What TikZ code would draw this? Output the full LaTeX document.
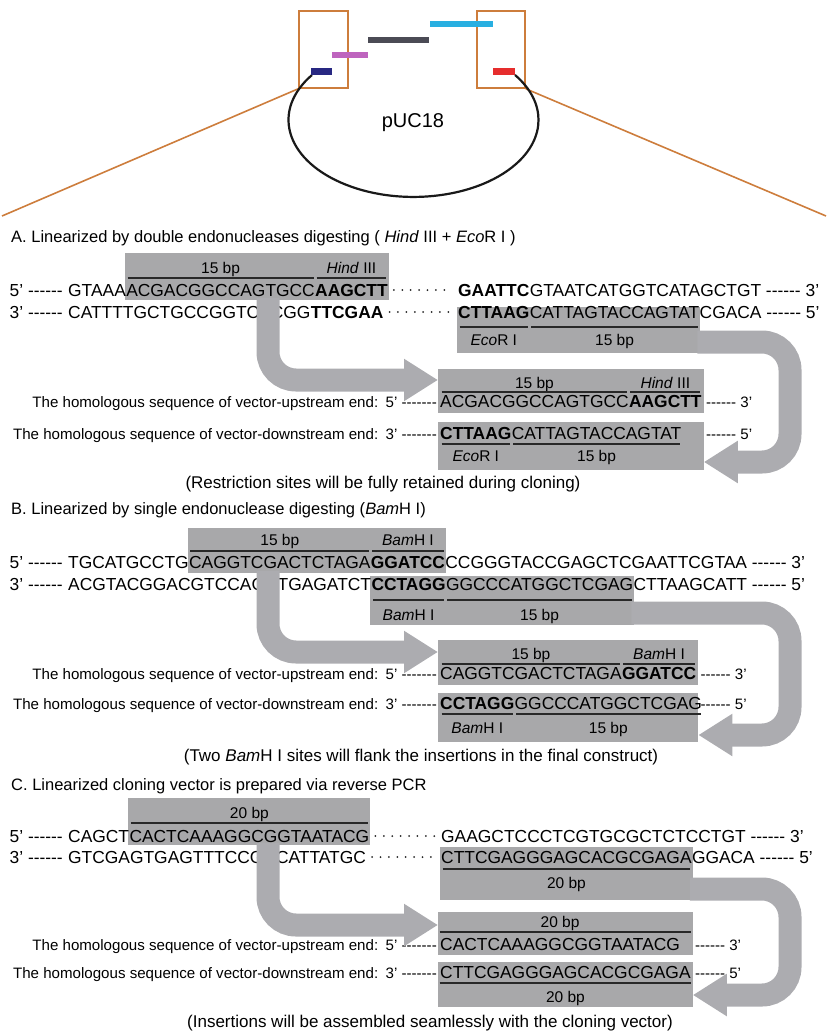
\documentclass[tikz,border=0pt]{standalone}
\usepackage{fontspec}
\setmainfont{Liberation Sans}[Ligatures=TeXOff]
\usetikzlibrary{calc,arrows.meta,backgrounds}

\definecolor{boxgray}{RGB}{168,168,170}
\definecolor{arrowgray}{RGB}{172,172,176}
\definecolor{bardark}{RGB}{40,40,40}
\definecolor{zoomorange}{RGB}{205,125,60}
\definecolor{barcyan}{RGB}{40,175,225}
\definecolor{bargrey}{RGB}{75,75,85}
\definecolor{barpurple}{RGB}{190,100,190}
\definecolor{barnavy}{RGB}{40,40,130}
\definecolor{barred}{RGB}{230,45,45}

\newcommand\seqfont{\fontsize{17.4}{20}\selectfont}
\newcommand\labfont{\fontsize{15.5}{18}\selectfont}
\newcommand\rowfont{\fontsize{15.1}{18}\selectfont}
\newcommand\titfont{\fontsize{16.5}{20}\selectfont}
\newcommand\capfont{\fontsize{17}{20}\selectfont}
\newcommand\plasfont{\fontsize{20}{24}\selectfont}

\tikzset{
  seq/.style={anchor=base west, inner sep=0pt, font=\seqfont},
  bplabel/.style={anchor=base, inner sep=0pt, font=\labfont},
  rowtxt/.style={anchor=base east, inner sep=0pt, font=\rowfont},
  ttl/.style={anchor=base west, inner sep=0pt, font=\titfont},
  capline/.style={anchor=base, inner sep=0pt, font=\capfont},
  seqbar/.style={draw=bardark, line width=2pt, shorten <=1.5pt, shorten >=1.5pt},
  dotrun/.style={draw=black!85, line width=2pt, dash pattern=on 0pt off 8.4pt, line cap=round},
  fatarrow/.style={draw=arrowgray, line width=23pt, rounded corners=28pt,
    -{Triangle[width=40pt,length=34pt]}},
  zoomframe/.style={draw=zoomorange, line width=1.6pt, inner sep=0pt},
  zoomline/.style={draw=zoomorange, line width=1.6pt},
  segbar/.style={line width=6pt},
  plasmid/.style={draw=black!90, line width=2.2pt}
}

\begin{document}
\begin{tikzpicture}[x=1pt,y=-1pt]
\useasboundingbox (0,0) rectangle (828,1032);

%Plasmid map
\node[zoomframe, minimum width=49pt, minimum height=77pt] (frameL) at (323.5,49.5) {};
\node[zoomframe, minimum width=48pt, minimum height=77pt] (frameR) at (501,49.5) {};
\coordinate (edgeL) at (2,216);
\coordinate (edgeR) at (826,216);
\draw[zoomline] (frameL.south west) -- (edgeL);
\draw[zoomline] (frameR.south east) -- (edgeR);
\draw[segbar, barcyan] (430,24) -- (493,24);
\draw[segbar, bargrey] (368,40) -- (429,40);
\draw[segbar, barpurple] (332,55) -- (368,55);
\draw[plasmid] (312,75) arc[start angle=215.7, end angle=-35.7, x radius=125, y radius=77];
\draw[segbar, barnavy, line width=7pt] (311,72) -- (332,72);
\draw[segbar, barred, line width=7pt] (493,72) -- (515,72);
\node[font=\plasfont] (puc) at (413,123) {pUC18};

%Part A
\node[ttl] (titA) at (11,243) {A. Linearized by double endonucleases digesting ( \textit{Hind} III + \textit{Eco}R I )};
% top strand
\node[seq] (At1) at (68,296) {GTAAA};
\node[seq] (At2) at (At1.base east) {ACGACGGCCAGTGCC};
\node[seq] (At3) at (At2.base east) {\textbf{AAGCTT}};
\node[seq, anchor=base east] (At0) at ([xshift=-5pt]At1.base west) {5’\ ------};
\node[seq] (At4) at (458,296) {\textbf{GAATTC}};
\node[seq] (At5) at (At4.base east) {GTAATCATGGTCATAGCTGT\ ------\ 3’};
% bottom strand
\node[seq] (Ab1) at (68,318) {CATTTTGCTGCCGGTCACGG};
\node[seq] (Ab2) at (Ab1.base east) {\textbf{TTCGAA}};
\node[seq, anchor=base east] (Ab0) at ([xshift=-5pt]Ab1.base west) {3’\ ------};
\node[seq] (Ab3) at (458,318) {\textbf{CTTAAG}};
\node[seq] (Ab4) at (Ab3.base east) {CATTAGTACCAGTAT};
\node[seq] (Ab5) at (Ab4.base east) {CGACA\ ------\ 5’};
\draw[dotrun] ([xshift=6pt]At3.east) -- ([xshift=-6pt]At4.west);
\draw[dotrun] ([xshift=6pt]Ab2.east) -- ([xshift=-6pt]Ab3.west);
% labels
\node[bplabel] (Al1) at (At2.north |- 0,273) {15 bp};
\node[bplabel] (Al2) at (At3.north |- 0,273) {\textit{Hind} III};
\draw[seqbar] (At2.west |- 0,278) -- (At2.east |- 0,278);
\draw[seqbar] (At3.west |- 0,278) -- (At3.east |- 0,278);
\node[bplabel] (Al3) at (Ab3.north |- 0,345) {\textit{Eco}R I};
\node[bplabel] (Al4) at (Ab4.north |- 0,345) {15 bp};
\draw[seqbar] (Ab3.west |- 0,327) -- (Ab3.east |- 0,327);
\draw[seqbar] (Ab4.west |- 0,327) -- (Ab4.east |- 0,327);
% homologous ends
\node[seq] (Au1) at (440,407) {ACGACGGCCAGTGCC};
\node[seq] (Au2) at (Au1.base east) {\textbf{AAGCTT}};
\node[rowtxt] (Au0) at ([xshift=-3pt]Au1.base west) {5’\ -------};
\node[rowtxt] (AuT) at ([xshift=-7pt]Au0.base west) {The homologous sequence of vector-upstream end:};
\node[rowtxt, anchor=base west] (Au3) at ([xshift=4pt]Au2.base east) {------\ 3’};
\node[bplabel] (Al5) at (Au1.north |- 0,388) {15 bp};
\node[bplabel] (Al6) at (Au2.north |- 0,388) {\textit{Hind} III};
\draw[seqbar] (Au1.west |- 0,392) -- (Au1.east |- 0,392);
\draw[seqbar] (Au2.west |- 0,392) -- (Au2.east |- 0,392);
\node[seq] (Ad1) at (440,439) {\textbf{CTTAAG}};
\node[seq] (Ad2) at (Ad1.base east) {CATTAGTACCAGTAT};
\node[rowtxt] (Ad0) at ([xshift=-3pt]Ad1.base west) {3’\ -------};
\node[rowtxt] (AdT) at ([xshift=-7pt]Ad0.base west) {The homologous sequence of vector-downstream end:};
\node[rowtxt, anchor=base west] (Ad3) at (Au3.base west |- Ad2.base) {------\ 5’};
\node[bplabel] (Al7) at (Ad1.north |- 0,461) {\textit{Eco}R I};
\node[bplabel] (Al8) at (Ad2.north |- 0,461) {15 bp};
\draw[seqbar] (Ad1.west |- 0,444) -- (Ad1.east |- 0,444);
\draw[seqbar] (Ad2.west |- 0,444) -- (Ad2.east |- 0,444);
\node[capline] (capA) at (383,488) {(Restriction sites will be fully retained during cloning)};
\coordinate (Abx) at ($(Au2.east)+(2,0)$);
\coordinate (Alx) at ($(Au1.west)+(-2,0)$);
\begin{scope}[on background layer]
  \fill[boxgray] ($(At2.west |- 0,253)+(-1,0)$) rectangle ($(At3.east |- 0,300)+(1,0)$);
  \fill[boxgray] ($(Ab3.west |- 0,307)+(-1,0)$) rectangle ($(Ab4.east |- 0,353)+(1,0)$);
  \fill[boxgray] (Alx |- 0,369) rectangle (Abx |- 0,413);
  \fill[boxgray] (Alx |- 0,422) rectangle (Abx |- 0,470);
\end{scope}
\coordinate (Aa1) at (268,298);
\coordinate (Aa2) at (Alx |- 0,380);
\coordinate (Aa3) at ($(Ab4.east |- 0,342)+(-2,0)$);
\coordinate (Aturn) at (790,462);
\coordinate (Aa4) at (Abx |- 0,462);
\draw[fatarrow] (Aa1) |- (Aa2);
\draw[fatarrow] (Aa3) -| (Aturn) -- (Aa4);

%Part B
\node[ttl] (titB) at (11,514) {B. Linearized by single endonuclease digesting (\textit{Bam}H I)};
% top strand
\node[seq] (Bt1) at (68,568) {TGCATGCCTG};
\node[seq] (Bt2) at (Bt1.base east) {CAGGTCGACTCTAGA};
\node[seq] (Bt3) at (Bt2.base east) {\textbf{GGATCC}};
\node[seq] (Bt4) at (Bt3.base east) {CCGGGTACCGAGCTCGAATTCGTAA\ ------\ 3’};
\node[seq, anchor=base east] (Bt0) at ([xshift=-5pt]Bt1.base west) {5’\ ------};
% bottom strand
\node[seq] (Bb1) at (68,590) {ACGTACGGACGTCCAGCTGAGATCT};
\node[seq] (Bb2) at (Bb1.base east) {\textbf{CCTAGG}};
\node[seq] (Bb3) at (Bb2.base east) {GGCCCATGGCTCGAG};
\node[seq] (Bb4) at (Bb3.base east) {CTTAAGCATT\ ------\ 5’};
\node[seq, anchor=base east] (Bb0) at ([xshift=-5pt]Bb1.base west) {3’\ ------};
% labels
\node[bplabel] (Bl1) at (Bt2.north |- 0,545) {15 bp};
\node[bplabel] (Bl2) at (Bt3.north |- 0,545) {\textit{Bam}H I};
\draw[seqbar] (Bt2.west |- 0,551) -- (Bt2.east |- 0,551);
\draw[seqbar] (Bt3.west |- 0,551) -- (Bt3.east |- 0,551);
\node[bplabel] (Bl3) at (Bb2.north |- 0,620) {\textit{Bam}H I};
\node[bplabel] (Bl4) at (Bb3.north |- 0,620) {15 bp};
\draw[seqbar] (Bb2.west |- 0,600) -- (Bb2.east |- 0,600);
\draw[seqbar] (Bb3.west |- 0,600) -- (Bb3.east |- 0,600);
% homologous ends
\node[seq] (Bu1) at (440,679) {CAGGTCGACTCTAGA};
\node[seq] (Bu2) at (Bu1.base east) {\textbf{GGATCC}};
\node[rowtxt] (Bu0) at ([xshift=-3pt]Bu1.base west) {5’\ -------};
\node[rowtxt] (BuT) at ([xshift=-7pt]Bu0.base west) {The homologous sequence of vector-upstream end:};
\node[rowtxt, anchor=base west] (Bu3) at ([xshift=4pt]Bu2.base east) {------\ 3’};
\node[bplabel] (Bl5) at (Bu1.north |- 0,659) {15 bp};
\node[bplabel] (Bl6) at (Bu2.north |- 0,659) {\textit{Bam}H I};
\draw[seqbar] (Bu1.west |- 0,664) -- (Bu1.east |- 0,664);
\draw[seqbar] (Bu2.west |- 0,664) -- (Bu2.east |- 0,664);
\node[seq] (Bd1) at (440,709) {\textbf{CCTAGG}};
\node[seq] (Bd2) at (Bd1.base east) {GGCCCATGGCTCGAG};
\node[rowtxt] (Bd0) at ([xshift=-3pt]Bd1.base west) {3’\ -------};
\node[rowtxt] (BdT) at ([xshift=-7pt]Bd0.base west) {The homologous sequence of vector-downstream end:};
\node[rowtxt, anchor=base west] (Bd3) at (Bu3.base west |- Bd2.base) {------\ 5’};
\node[bplabel] (Bl7) at (Bd1.north |- 0,733) {\textit{Bam}H I};
\node[bplabel] (Bl8) at (Bd2.north |- 0,733) {15 bp};
\draw[seqbar] (Bd1.west |- 0,714) -- (Bd1.east |- 0,714);
\draw[seqbar] (Bd2.west |- 0,714) -- (Bd2.east |- 0,714);
\node[capline] (capB) at (421,761) {(Two \textit{Bam}H I sites will flank the insertions in the final construct)};
\coordinate (Bbx) at ($(Bu2.east)+(2,0)$);
\coordinate (Blx) at ($(Bu1.west)+(-2,0)$);
\begin{scope}[on background layer]
  \fill[boxgray] ($(Bt2.west |- 0,528)+(-1,0)$) rectangle ($(Bt3.east |- 0,573)+(1,0)$);
  \fill[boxgray] ($(Bb2.west |- 0,576)+(-1,0)$) rectangle ($(Bb3.east |- 0,625)+(1,0)$);
  \fill[boxgray] (Blx |- 0,640) rectangle (Bbx |- 0,685);
  \fill[boxgray] (Blx |- 0,693) rectangle (Bbx |- 0,742);
\end{scope}
\coordinate (Ba1) at (268,571);
\coordinate (Ba2) at (Blx |- 0,652);
\coordinate (Ba3) at ($(Bb3.east |- 0,613)+(-2,0)$);
\coordinate (Bturn) at (790,735);
\coordinate (Ba4) at (Bbx |- 0,735);
\draw[fatarrow] (Ba1) |- (Ba2);
\draw[fatarrow] (Ba3) -| (Bturn) -- (Ba4);

%Part C
\node[ttl] (titC) at (11,790) {C. Linearized cloning vector is prepared via reverse PCR};
% top strand
\node[seq] (Ct1) at (68,842) {CAGCT};
\node[seq] (Ct2) at (Ct1.base east) {CACTCAAAGGCGGTAATACG};
\node[seq, anchor=base east] (Ct0) at ([xshift=-5pt]Ct1.base west) {5’\ ------};
\node[seq] (Ct3) at (441,842) {GAAGCTCCCTCGTGCGCTCTCCTGT\ ------\ 3’};
% bottom strand
\node[seq] (Cb1) at (68,863) {GTCGAGTGAGTTTCCGCCATTATGC};
\node[seq, anchor=base east] (Cb0) at ([xshift=-5pt]Cb1.base west) {3’\ ------};
\node[seq] (Cb2) at (441,863) {CTTCGAGGGAGCACGCGAGA};
\node[seq] (Cb3) at (Cb2.base east) {GGACA\ ------\ 5’};
\draw[dotrun] ([xshift=6pt]Ct2.east) -- ([xshift=-6pt]Ct3.west);
\draw[dotrun] ([xshift=6pt]Cb1.east) -- ([xshift=-6pt]Cb2.west);
% labels
\node[bplabel] (Cl1) at (Ct2.north |- 0,818) {20 bp};
\draw[seqbar] (Ct2.west |- 0,823) -- (Ct2.east |- 0,823);
\node[bplabel] (Cl2) at (Cb2.north |- 0,888) {20 bp};
\draw[seqbar] (Cb2.west |- 0,869) -- (Cb2.east |- 0,869);
% homologous ends
\node[seq] (Cu1) at (440,950) {CACTCAAAGGCGGTAATACG};
\node[rowtxt] (Cu0) at ([xshift=-3pt]Cu1.base west) {5’\ -------};
\node[rowtxt] (CuT) at ([xshift=-7pt]Cu0.base west) {The homologous sequence of vector-upstream end:};
\node[bplabel] (Cl3) at (Cu1.north |- 0,927) {20 bp};
\node[seq] (Cd1) at (440,978) {CTTCGAGGGAGCACGCGAGA};
\node[rowtxt] (Cd0) at ([xshift=-3pt]Cd1.base west) {3’\ -------};
\node[rowtxt] (CdT) at ([xshift=-7pt]Cd0.base west) {The homologous sequence of vector-downstream end:};
\node[rowtxt, anchor=base west] (Cd3) at ([xshift=4pt]Cd1.base east) {------\ 5’};
\node[rowtxt, anchor=base west] (Cu3) at (Cd3.base west |- Cu1.base) {------\ 3’};
\node[bplabel] (Cl4) at (Cd1.north |- 0,1002) {20 bp};
\coordinate (Cbx) at ($(Cd1.east)+(2,0)$);
\coordinate (Clx) at ($(Cu1.west)+(-2,0)$);
\draw[seqbar] (Clx |- 0,932) -- (Cbx |- 0,932);
\draw[seqbar] (Clx |- 0,983) -- (Cbx |- 0,983);
\node[capline] (capC) at (430,1027) {(Insertions will be assembled seamlessly with the cloning vector)};
\begin{scope}[on background layer]
  \fill[boxgray] ($(Ct2.west |- 0,798)+(-1,0)$) rectangle ($(Ct2.east |- 0,845)+(1,0)$);
  \fill[boxgray] ($(Cb2.west |- 0,847)+(-1,0)$) rectangle ($(Cb2.east |- 0,900)+(1,0)$);
  \fill[boxgray] (Clx |- 0,912) rectangle (Cbx |- 0,955);
  \fill[boxgray] (Clx |- 0,962) rectangle (Cbx |- 0,1007);
\end{scope}
\coordinate (Ca1) at (268,843);
\coordinate (Ca2) at (Clx |- 0,925);
\coordinate (Ca3) at ($(Cb2.east |- 0,889)+(-2,0)$);
\coordinate (Cturn) at (790,995);
\coordinate (Ca4) at (Cbx |- 0,995);
\draw[fatarrow] (Ca1) |- (Ca2);
\draw[fatarrow] (Ca3) -| (Cturn) -- (Ca4);
\end{tikzpicture}
\end{document}
